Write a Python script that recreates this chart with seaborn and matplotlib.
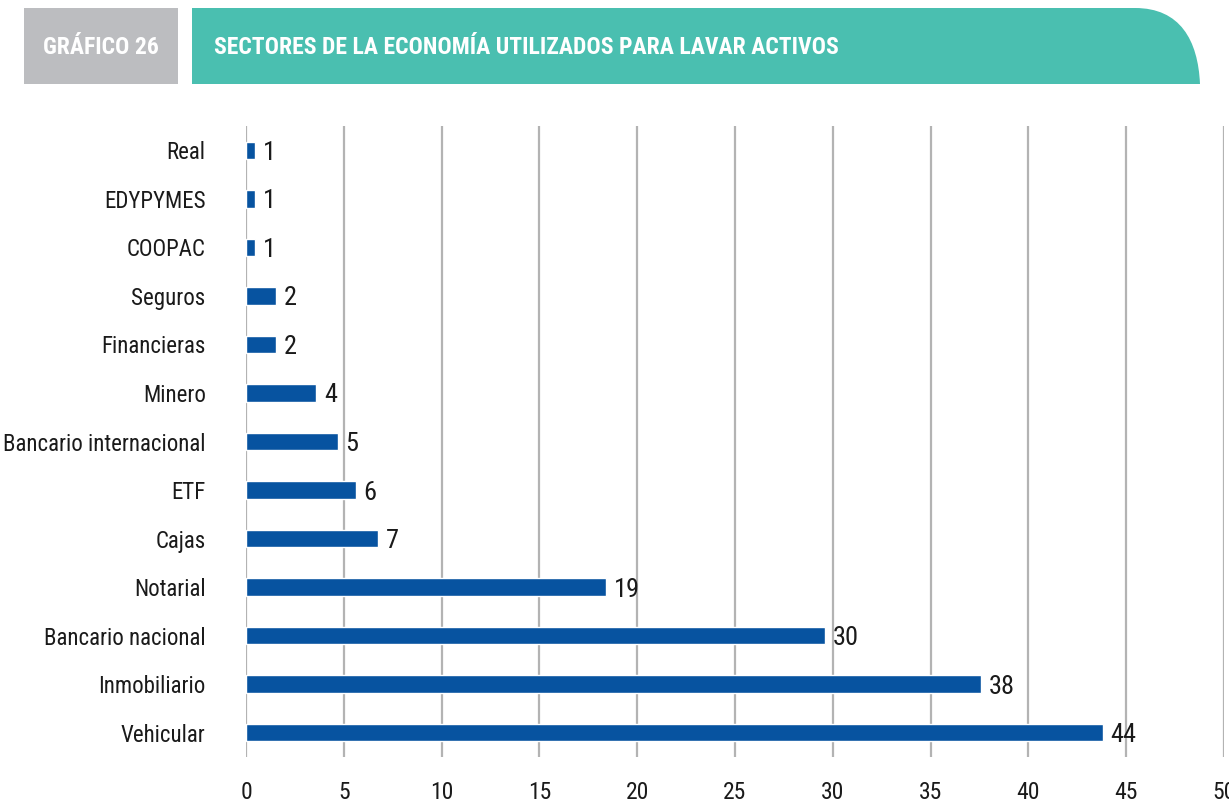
import matplotlib
matplotlib.use("Agg")
import matplotlib.pyplot as plt
from matplotlib import font_manager
from matplotlib.path import Path
from matplotlib.patches import PathPatch, Rectangle
import seaborn as sns
import pandas as pd

categories = ["Real", "EDYPYMES", "COOPAC", "Seguros", "Financieras", "Minero",
              "Bancario internacional", "ETF", "Cajas", "Notarial",
              "Bancario nacional", "Inmobiliario", "Vehicular"]
bar_lengths = [0.45, 0.45, 0.45, 1.55, 1.55, 3.6, 4.7, 5.6, 6.75, 18.4, 29.6, 37.6, 43.8]
value_labels = ["1", "1", "1", "2", "2", "4", "5", "6", "7", "19", "30", "38", "44"]
x_ticks = [0, 5, 10, 15, 20, 25, 30, 35, 40, 45, 50]

header_label = "GRÁFICO 26"
title = "SECTORES DE LA ECONOMÍA UTILIZADOS PARA LAVAR ACTIVOS"

sns.set_theme(style="white")
fonts = font_manager.fontManager.ttflist
cond = [f for f in fonts if f.stretch in ("condensed", "semi-condensed", 62.5, 75, 87.5)
        or "Condensed" in f.name or "Narrow" in f.name]
chosen = None
for pref in ["Roboto Condensed", "Open Sans Condensed", "Liberation Sans Narrow",
             "Noto Sans", "DejaVu Sans", "Open Sans", "Roboto"]:
    for f in cond:
        if f.name == pref:
            chosen = f
            break
    if chosen:
        break
if chosen is None and cond:
    chosen = cond[0]
if chosen is not None:
    plt.rcParams["font.family"] = [chosen.name, "DejaVu Sans"]
    plt.rcParams["font.stretch"] = chosen.stretch
else:
    plt.rcParams["font.family"] = ["Roboto", "DejaVu Sans"]

W, H = 1229, 805
fig = plt.figure(figsize=(W / 100, H / 100), dpi=100)
ax = fig.add_axes([246 / W, 1 - 757 / H, (1224 - 246) / W, (757 - 126) / H])

df = pd.DataFrame({"sector": categories, "valor": bar_lengths})
sns.barplot(data=df, x="valor", y="sector", orient="h", color="#0753a0",
            saturation=1, width=0.36, ax=ax)
bars = ax.containers[0]
texts = ax.bar_label(bars, labels=value_labels, padding=5.5, fontsize=19, color="#1a1a1a")
for t in texts:
    t.set_va("center_baseline")

ax.set_xlim(0, 50)
ax.set_ylim(12.5, -0.5)
ax.set_xticks(x_ticks)
ax.set_xlabel("")
ax.set_ylabel("")
ax.grid(axis="x", color="#b3b3b3", linewidth=1.6)
ax.set_axisbelow(True)
for s in ax.spines.values():
    s.set_visible(False)
ax.tick_params(axis="both", length=0)
ax.tick_params(axis="y", pad=29, labelsize=16.5, labelcolor="#1a1a1a")
ax.tick_params(axis="x", pad=17, labelsize=17, labelcolor="#1a1a1a")

# header decoration
hx = fig.add_axes([0, 0, 1, 1], zorder=-1)
hx.set_xlim(0, W)
hx.set_ylim(H, 0)
hx.axis("off")
hx.add_patch(Rectangle((24, 8), 154, 76, facecolor="#bcbdc0", edgecolor="none"))
verts = [(192, 8), (1135, 8), (1180, 8), (1198, 40), (1200, 84), (192, 84), (192, 8)]
codes = [Path.MOVETO, Path.LINETO, Path.CURVE4, Path.CURVE4, Path.CURVE4,
         Path.LINETO, Path.CLOSEPOLY]
hx.add_patch(PathPatch(Path(verts, codes), facecolor="#4abfb0", edgecolor="none"))
hx.text(101, 48, header_label, color="white", fontsize=17, fontweight="bold",
        ha="center", va="center")
hx.text(214, 48, title, color="white", fontsize=17, fontweight="bold",
        ha="left", va="center")

fig.savefig("out.png", dpi=100)
